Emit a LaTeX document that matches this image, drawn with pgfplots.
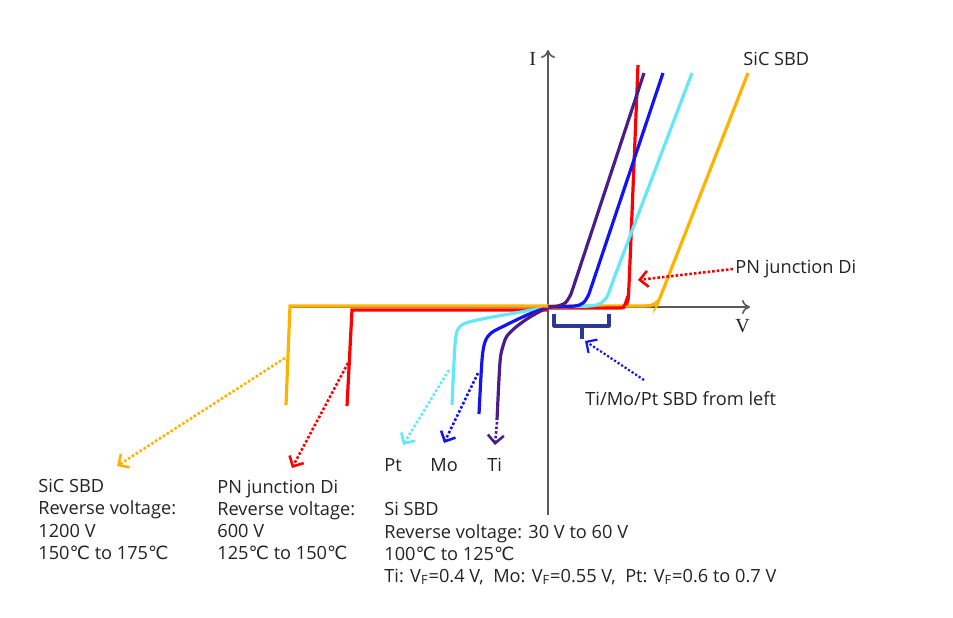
\documentclass[border=0pt]{standalone}
\usepackage{fontspec}
\setmainfont{Open Sans}
\newfontfamily\serifI{Liberation Serif}
\newfontfamily\djv{DejaVu Sans}
\newcommand{\degC}{{\djv ℃}}
\usepackage{pgfplots}
\pgfplotsset{compat=1.18}
\usetikzlibrary{arrows.meta}
\definecolor{cOr}{RGB}{255,178,0}
\definecolor{cRd}{RGB}{255,0,0}
\definecolor{cCy}{RGB}{100,232,248}
\definecolor{cBl}{RGB}{20,20,240}
\definecolor{cPu}{RGB}{75,30,135}
\definecolor{cNv}{RGB}{45,55,150}
\definecolor{cAx}{RGB}{90,90,90}
\definecolor{cTx}{RGB}{35,35,35}
\begin{document}
\begin{tikzpicture}
\begin{axis}[width=476.5pt,height=308.5pt,scale only axis,
  xmin=0,xmax=953,ymin=0,ymax=617,y dir=reverse,hide axis,clip=false]
\path (axis cs:0,0) rectangle (axis cs:953,617);
% axes
\addplot[cAx, line width=0.8pt, -{To[length=4pt,width=7pt]}] coordinates {(290,307) (750,307)};
\addplot[cAx, line width=0.8pt, -{To[length=4pt,width=7pt]}] coordinates {(548,515) (548,50)};
% forward curves
\addplot[cOr, line width=1.6pt, smooth, tension=0.4] coordinates {(548,306) (640,306) (652,305) (658,301) (663,290) (748,73)};
\addplot[cRd, line width=1.6pt, smooth, tension=0.4] coordinates {(548,308) (618,308) (624,306) (627,299) (629,285) (638,65)};
\addplot[cCy, line width=1.6pt, smooth, tension=0.4] coordinates {(548,307) (590,306) (601,303) (608,295) (616,273) (692,73)};
\addplot[cBl, line width=1.6pt, smooth, tension=0.4] coordinates {(548,307) (575,306) (583,303) (588,296) (595,276) (663,73)};
\addplot[cPu, line width=1.6pt, smooth, tension=0.4] coordinates {(548,307) (558,306) (565,303) (570,296) (577,276) (644,73)};
% reverse curves
\addplot[cRd, line width=1.6pt] coordinates {(548,310) (352,310) (347,406)};
\addplot[cCy, line width=1.6pt, smooth, tension=0.5] coordinates {(548,307) (515,313) (487,318) (466,323) (458,329) (455,345) (452,405)};
\addplot[cBl, line width=1.6pt, smooth, tension=0.5] coordinates {(548,307) (527,315) (506,325) (491,333) (485,342) (482,360) (479,414)};
\addplot[cPu, line width=1.6pt, smooth, tension=0.5] coordinates {(548,307) (530,317) (516,327) (507,336) (503,346) (500,362) (497,420)};
\addplot[cOr, line width=1.6pt] coordinates {(548,306) (290,306) (286,405)};
% dotted annotation arrows
\addplot[cOr, line width=1.3pt, densely dotted, -{Straight Barb[length=4pt,width=8pt]}] coordinates {(285,358) (117,466)};
\addplot[cRd, line width=1.3pt, densely dotted, -{Straight Barb[length=4pt,width=8pt]}] coordinates {(348,363) (292,468)};
\addplot[cCy, line width=1.3pt, densely dotted, -{Straight Barb[length=4pt,width=8pt]}] coordinates {(449,370) (403,445)};
\addplot[cBl, line width=1.3pt, densely dotted, -{Straight Barb[length=4pt,width=8pt]}] coordinates {(478,373) (444,443)};
\addplot[cPu, line width=1.3pt, densely dotted, -{Straight Barb[length=4pt,width=8pt]}] coordinates {(497,422) (495,445)};
\addplot[cRd, line width=1.3pt, densely dotted, -{Straight Barb[length=4pt,width=8pt]}] coordinates {(733,269) (638,280)};
\addplot[cBl, line width=1.1pt, densely dotted, -{Straight Barb[length=4pt,width=8pt]}] coordinates {(644,380) (585,341)};
% bracket
\addplot[cNv, line width=1.6pt, line join=round] coordinates {(554,314) (554,326) (609,326) (609,314)};
\addplot[cNv, line width=1.6pt] coordinates {(582,326) (582,339)};
% labels
\tikzset{lbl/.style={anchor=base west, inner sep=0pt, text=cTx, font=\fontsize{9.1}{11}\selectfont}}
\node[anchor=base west, inner sep=0pt, text=cTx, font=\serifI\fontsize{10}{12}\selectfont] at (axis cs:529,65) {I};
\node[anchor=base west, inner sep=0pt, text=cTx, font=\serifI\fontsize{10}{12}\selectfont] at (axis cs:735,332) {V};
\node[lbl] at (axis cs:743,65) {SiC SBD};
\node[lbl] at (axis cs:735,273) {PN junction Di};
\node[lbl] at (axis cs:585,405) {Ti/Mo/Pt SBD from left};
\node[lbl] at (axis cs:384,471) {Pt};
\node[lbl] at (axis cs:430,471) {Mo};
\node[lbl] at (axis cs:487,471) {Ti};
\node[lbl] at (axis cs:38,492) {SiC SBD};
\node[lbl] at (axis cs:38,514) {Reverse voltage:};
\node[lbl] at (axis cs:38,537) {1200 V};
\node[lbl] at (axis cs:38,559) {150\degC{} to 175\degC};
\node[lbl] at (axis cs:217,493) {PN junction Di};
\node[lbl] at (axis cs:217,515) {Reverse voltage:};
\node[lbl] at (axis cs:217,537) {600 V};
\node[lbl] at (axis cs:217,559) {125\degC{} to 150\degC};
\node[lbl] at (axis cs:384,515) {Si SBD};
\node[lbl] at (axis cs:384,538) {Reverse voltage: 30 V to 60 V};
\node[lbl] at (axis cs:384,560) {100\degC{} to 125\degC};
\node[lbl] at (axis cs:384,582) {Ti: V\textsubscript{F}=0.4 V,\ \ Mo: V\textsubscript{F}=0.55 V,\ \ Pt: V\textsubscript{F}=0.6 to 0.7 V};
\end{axis}
\end{tikzpicture}
\end{document}
